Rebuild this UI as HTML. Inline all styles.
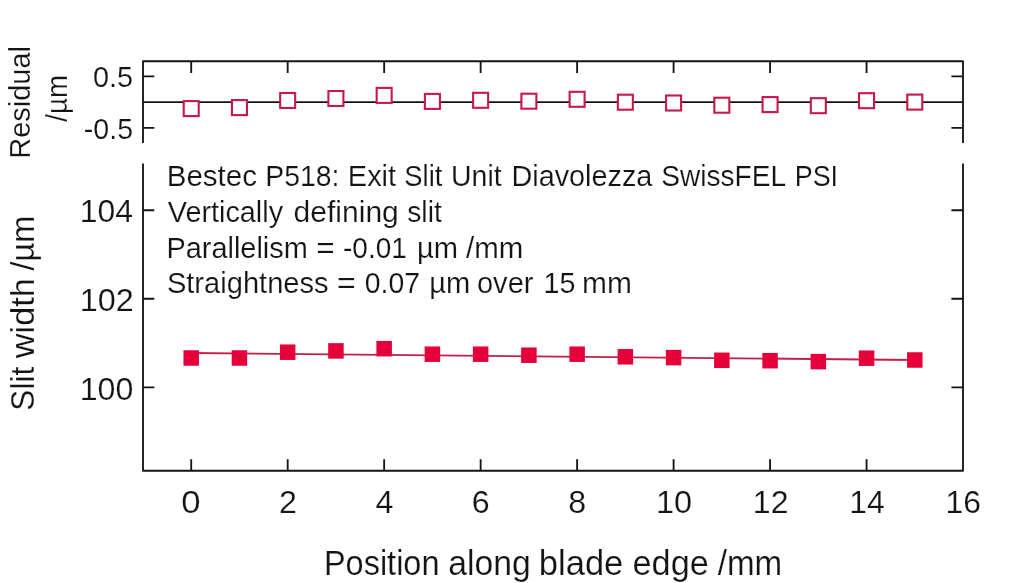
<!DOCTYPE html>
<html><head><meta charset="utf-8"><style>
html,body{margin:0;padding:0;background:#fff;width:1024px;height:583px;overflow:hidden}
svg{display:block;will-change:transform}
text{font-family:"Liberation Sans",sans-serif}
</style></head><body>
<svg width="1024" height="583" viewBox="0 0 1024 583">
<rect width="1024" height="583" fill="#fff"/>
<path d="M143 142.9 V61.2 H963 V142.9" fill="none" stroke="#151515" stroke-width="1.85" stroke-linecap="butt" stroke-linejoin="round"/>
<path d="M143 102.2 H963" stroke="#151515" stroke-width="1.7"/>
<path d="M143 76.3 h11.3 M963 76.3 h-11.6 M143 127.8 h11.3 M963 127.8 h-11.6 M191.20 61.2 v11.8 M287.68 61.2 v11.8 M384.16 61.2 v11.8 M480.64 61.2 v11.8 M577.12 61.2 v11.8 M673.60 61.2 v11.8 M770.08 61.2 v11.8 M866.56 61.2 v11.8 " stroke="#151515" stroke-width="1.85"/>
<path d="M143 163.4 V470.7 H963 V163.4" fill="none" stroke="#151515" stroke-width="1.85" stroke-linecap="butt" stroke-linejoin="round"/>
<path d="M143 210.2 h11.3 M963 210.2 h-11.6 M143 298.7 h11.3 M963 298.7 h-11.6 M143 387.4 h11.3 M963 387.4 h-11.6 M191.20 470.7 v-11.5 M287.68 470.7 v-11.5 M384.16 470.7 v-11.5 M480.64 470.7 v-11.5 M577.12 470.7 v-11.5 M673.60 470.7 v-11.5 M770.08 470.7 v-11.5 M866.56 470.7 v-11.5 " stroke="#151515" stroke-width="1.85"/>
<path d="M191.20 353.0 L914.80 360.0" stroke="#c21f4a" stroke-width="1.8"/>
<rect x="183.70" y="101.10" width="15" height="15" fill="#fff" stroke="#c8184a" stroke-width="2.1"/>
<rect x="231.94" y="100.10" width="15" height="15" fill="#fff" stroke="#c8184a" stroke-width="2.1"/>
<rect x="280.18" y="93.00" width="15" height="15" fill="#fff" stroke="#c8184a" stroke-width="2.1"/>
<rect x="328.42" y="91.00" width="15" height="15" fill="#fff" stroke="#c8184a" stroke-width="2.1"/>
<rect x="376.66" y="87.90" width="15" height="15" fill="#fff" stroke="#c8184a" stroke-width="2.1"/>
<rect x="424.90" y="93.90" width="15" height="15" fill="#fff" stroke="#c8184a" stroke-width="2.1"/>
<rect x="473.14" y="92.80" width="15" height="15" fill="#fff" stroke="#c8184a" stroke-width="2.1"/>
<rect x="521.38" y="93.70" width="15" height="15" fill="#fff" stroke="#c8184a" stroke-width="2.1"/>
<rect x="569.62" y="91.80" width="15" height="15" fill="#fff" stroke="#c8184a" stroke-width="2.1"/>
<rect x="617.86" y="94.70" width="15" height="15" fill="#fff" stroke="#c8184a" stroke-width="2.1"/>
<rect x="666.10" y="95.50" width="15" height="15" fill="#fff" stroke="#c8184a" stroke-width="2.1"/>
<rect x="714.34" y="97.70" width="15" height="15" fill="#fff" stroke="#c8184a" stroke-width="2.1"/>
<rect x="762.58" y="97.10" width="15" height="15" fill="#fff" stroke="#c8184a" stroke-width="2.1"/>
<rect x="810.82" y="98.20" width="15" height="15" fill="#fff" stroke="#c8184a" stroke-width="2.1"/>
<rect x="859.06" y="93.20" width="15" height="15" fill="#fff" stroke="#c8184a" stroke-width="2.1"/>
<rect x="907.30" y="94.60" width="15" height="15" fill="#fff" stroke="#c8184a" stroke-width="2.1"/>
<rect x="183.45" y="350.25" width="15.5" height="15.5" fill="#e6003a"/>
<rect x="231.69" y="350.25" width="15.5" height="15.5" fill="#e6003a"/>
<rect x="279.93" y="344.45" width="15.5" height="15.5" fill="#e6003a"/>
<rect x="328.17" y="343.15" width="15.5" height="15.5" fill="#e6003a"/>
<rect x="376.41" y="340.95" width="15.5" height="15.5" fill="#e6003a"/>
<rect x="424.65" y="346.45" width="15.5" height="15.5" fill="#e6003a"/>
<rect x="472.89" y="346.45" width="15.5" height="15.5" fill="#e6003a"/>
<rect x="521.13" y="347.45" width="15.5" height="15.5" fill="#e6003a"/>
<rect x="569.37" y="346.45" width="15.5" height="15.5" fill="#e6003a"/>
<rect x="617.61" y="349.05" width="15.5" height="15.5" fill="#e6003a"/>
<rect x="665.85" y="349.85" width="15.5" height="15.5" fill="#e6003a"/>
<rect x="714.09" y="352.55" width="15.5" height="15.5" fill="#e6003a"/>
<rect x="762.33" y="352.95" width="15.5" height="15.5" fill="#e6003a"/>
<rect x="810.57" y="353.85" width="15.5" height="15.5" fill="#e6003a"/>
<rect x="858.81" y="350.45" width="15.5" height="15.5" fill="#e6003a"/>
<rect x="907.05" y="352.25" width="15.5" height="15.5" fill="#e6003a"/>
<text x="166.67" y="185.9" font-size="30.0" textLength="90.41" lengthAdjust="spacingAndGlyphs" fill="#141414" stroke="#fff" stroke-width="0.18">Bestec</text>
<text x="265.28" y="185.9" font-size="30.0" textLength="74.01" lengthAdjust="spacingAndGlyphs" fill="#141414" stroke="#fff" stroke-width="0.18">P518:</text>
<text x="347.82" y="185.9" font-size="30.0" textLength="48.29" lengthAdjust="spacingAndGlyphs" fill="#141414" stroke="#fff" stroke-width="0.18">Exit</text>
<text x="404.36" y="185.9" font-size="30.0" textLength="38.04" lengthAdjust="spacingAndGlyphs" fill="#141414" stroke="#fff" stroke-width="0.18">Slit</text>
<text x="451.00" y="185.9" font-size="30.0" textLength="50.71" lengthAdjust="spacingAndGlyphs" fill="#141414" stroke="#fff" stroke-width="0.18">Unit</text>
<text x="511.44" y="185.9" font-size="30.0" textLength="140.96" lengthAdjust="spacingAndGlyphs" fill="#141414" stroke="#fff" stroke-width="0.18">Diavolezza</text>
<text x="661.33" y="185.9" font-size="30.0" textLength="124.71" lengthAdjust="spacingAndGlyphs" fill="#141414" stroke="#fff" stroke-width="0.18">SwissFEL</text>
<text x="794.69" y="185.9" font-size="30.0" textLength="43.39" lengthAdjust="spacingAndGlyphs" fill="#141414" stroke="#fff" stroke-width="0.18">PSI</text>
<text x="167.78" y="222.0" font-size="30.0" textLength="115.28" lengthAdjust="spacingAndGlyphs" fill="#141414" stroke="#fff" stroke-width="0.18">Vertically</text>
<text x="293.64" y="222.0" font-size="30.0" textLength="105.20" lengthAdjust="spacingAndGlyphs" fill="#141414" stroke="#fff" stroke-width="0.18">defining</text>
<text x="407.21" y="222.0" font-size="30.0" textLength="34.60" lengthAdjust="spacingAndGlyphs" fill="#141414" stroke="#fff" stroke-width="0.18">slit</text>
<text x="166.43" y="258.0" font-size="30.0" textLength="141.38" lengthAdjust="spacingAndGlyphs" fill="#141414" stroke="#fff" stroke-width="0.18">Parallelism</text>
<text x="316.26" y="258.0" font-size="30.0" textLength="18.39" lengthAdjust="spacingAndGlyphs" fill="#141414" stroke="#fff" stroke-width="0.18">=</text>
<text x="343.06" y="258.0" font-size="30.0" textLength="63.71" lengthAdjust="spacingAndGlyphs" fill="#141414" stroke="#fff" stroke-width="0.18">-0.01</text>
<text x="417.11" y="258.0" font-size="30.0" textLength="41.01" lengthAdjust="spacingAndGlyphs" fill="#141414" stroke="#fff" stroke-width="0.18">µm</text>
<text x="466.00" y="258.0" font-size="30.0" textLength="57.24" lengthAdjust="spacingAndGlyphs" fill="#141414" stroke="#fff" stroke-width="0.18">/mm</text>
<text x="166.88" y="293.2" font-size="30.0" textLength="161.77" lengthAdjust="spacingAndGlyphs" fill="#141414" stroke="#fff" stroke-width="0.18">Straightness</text>
<text x="337.13" y="293.2" font-size="30.0" textLength="18.75" lengthAdjust="spacingAndGlyphs" fill="#141414" stroke="#fff" stroke-width="0.18">=</text>
<text x="364.79" y="293.2" font-size="30.0" textLength="55.24" lengthAdjust="spacingAndGlyphs" fill="#141414" stroke="#fff" stroke-width="0.18">0.07</text>
<text x="429.31" y="293.2" font-size="30.0" textLength="41.01" lengthAdjust="spacingAndGlyphs" fill="#141414" stroke="#fff" stroke-width="0.18">µm</text>
<text x="476.98" y="293.2" font-size="30.0" textLength="56.50" lengthAdjust="spacingAndGlyphs" fill="#141414" stroke="#fff" stroke-width="0.18">over</text>
<text x="543.52" y="293.2" font-size="30.0" textLength="31.89" lengthAdjust="spacingAndGlyphs" fill="#141414" stroke="#fff" stroke-width="0.18">15</text>
<text x="582.01" y="293.2" font-size="30.0" textLength="49.86" lengthAdjust="spacingAndGlyphs" fill="#141414" stroke="#fff" stroke-width="0.18">mm</text>
<text x="181.24" y="513.2" font-size="32.2" textLength="19.31" lengthAdjust="spacingAndGlyphs" fill="#141414" stroke="#fff" stroke-width="0.18">0</text>
<text x="278.93" y="513.2" font-size="32.2" textLength="17.91" lengthAdjust="spacingAndGlyphs" fill="#141414" stroke="#fff" stroke-width="0.18">2</text>
<text x="375.51" y="513.2" font-size="32.2" textLength="17.91" lengthAdjust="spacingAndGlyphs" fill="#141414" stroke="#fff" stroke-width="0.18">4</text>
<text x="471.78" y="513.2" font-size="32.2" textLength="17.91" lengthAdjust="spacingAndGlyphs" fill="#141414" stroke="#fff" stroke-width="0.18">6</text>
<text x="568.37" y="513.2" font-size="32.2" textLength="17.91" lengthAdjust="spacingAndGlyphs" fill="#141414" stroke="#fff" stroke-width="0.18">8</text>
<text x="655.92" y="513.2" font-size="32.2" textLength="36.14" lengthAdjust="spacingAndGlyphs" fill="#141414" stroke="#fff" stroke-width="0.18">10</text>
<text x="752.86" y="513.2" font-size="32.2" textLength="35.65" lengthAdjust="spacingAndGlyphs" fill="#141414" stroke="#fff" stroke-width="0.18">12</text>
<text x="849.27" y="513.2" font-size="32.2" textLength="35.46" lengthAdjust="spacingAndGlyphs" fill="#141414" stroke="#fff" stroke-width="0.18">14</text>
<text x="945.57" y="513.2" font-size="32.2" textLength="35.43" lengthAdjust="spacingAndGlyphs" fill="#141414" stroke="#fff" stroke-width="0.18">16</text>
<text x="79.77" y="221.8" font-size="32.2" textLength="53.27" lengthAdjust="spacingAndGlyphs" fill="#141414" stroke="#fff" stroke-width="0.18">104</text>
<text x="79.74" y="310.6" font-size="32.2" textLength="53.99" lengthAdjust="spacingAndGlyphs" fill="#141414" stroke="#fff" stroke-width="0.18">102</text>
<text x="79.75" y="399.6" font-size="32.2" textLength="53.60" lengthAdjust="spacingAndGlyphs" fill="#141414" stroke="#fff" stroke-width="0.18">100</text>
<text x="92.98" y="87.3" font-size="29.2" textLength="40.03" lengthAdjust="spacingAndGlyphs" fill="#141414" stroke="#fff" stroke-width="0.18">0.5</text>
<text x="83.83" y="138.6" font-size="29.2" textLength="49.17" lengthAdjust="spacingAndGlyphs" fill="#141414" stroke="#fff" stroke-width="0.18">-0.5</text>
<text x="323.94" y="574.5" font-size="34.2" textLength="115.57" lengthAdjust="spacingAndGlyphs" fill="#141414" stroke="#fff" stroke-width="0.18">Position</text>
<text x="448.17" y="574.5" font-size="34.2" textLength="82.51" lengthAdjust="spacingAndGlyphs" fill="#141414" stroke="#fff" stroke-width="0.18">along</text>
<text x="538.77" y="574.5" font-size="34.2" textLength="84.56" lengthAdjust="spacingAndGlyphs" fill="#141414" stroke="#fff" stroke-width="0.18">blade</text>
<text x="632.55" y="574.5" font-size="34.2" textLength="76.18" lengthAdjust="spacingAndGlyphs" fill="#141414" stroke="#fff" stroke-width="0.18">edge</text>
<text x="717.70" y="574.5" font-size="34.2" textLength="64.49" lengthAdjust="spacingAndGlyphs" fill="#141414" stroke="#fff" stroke-width="0.18">/mm</text>
<text transform="translate(33.6 410.63) rotate(-90)" x="0" y="0" font-size="34.0" textLength="43.76" lengthAdjust="spacingAndGlyphs" fill="#141414" stroke="#fff" stroke-width="0.18">Slit</text>
<text transform="translate(33.6 358.15) rotate(-90)" x="0" y="0" font-size="34.0" textLength="80.08" lengthAdjust="spacingAndGlyphs" fill="#141414" stroke="#fff" stroke-width="0.18">width</text>
<text transform="translate(33.6 270.50) rotate(-90)" x="0" y="0" font-size="34.0" textLength="54.84" lengthAdjust="spacingAndGlyphs" fill="#141414" stroke="#fff" stroke-width="0.18">/µm</text>
<text transform="translate(30.1 158.67) rotate(-90)" x="0" y="0" font-size="30.0" textLength="112.61" lengthAdjust="spacingAndGlyphs" fill="#141414" stroke="#fff" stroke-width="0.18">Residual</text>
<text transform="translate(66.9 121.70) rotate(-90)" x="0" y="0" font-size="30.0" textLength="46.83" lengthAdjust="spacingAndGlyphs" fill="#141414" stroke="#fff" stroke-width="0.18">/µm</text>
</svg>
</body></html>
